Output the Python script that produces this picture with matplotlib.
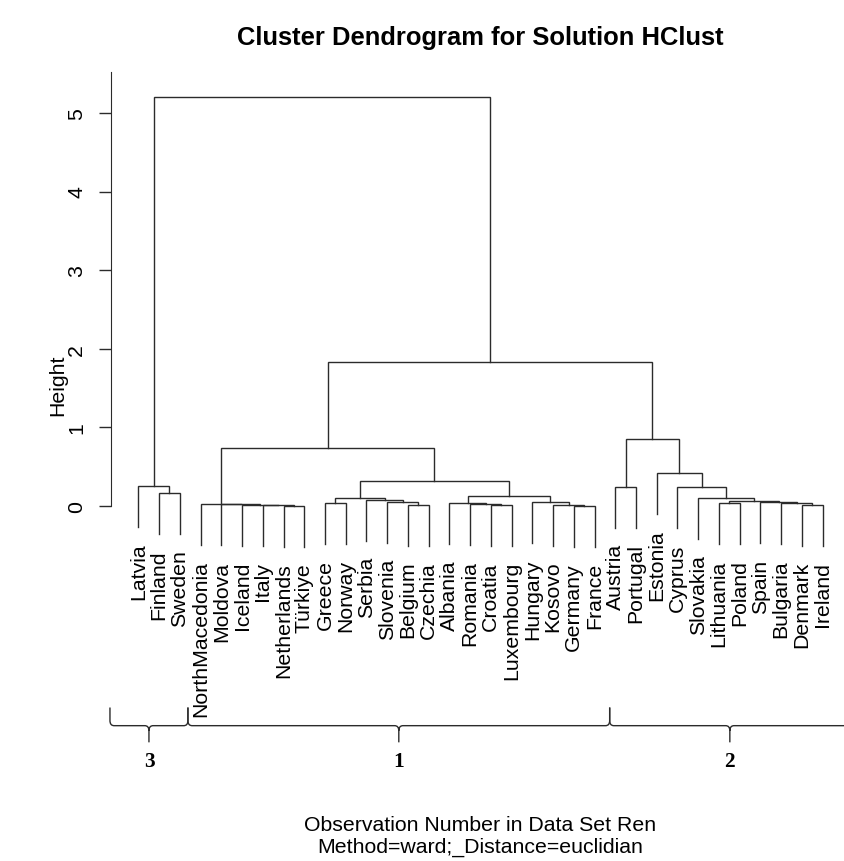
import numpy as np
import matplotlib
matplotlib.use('Agg')
import matplotlib.pyplot as plt
from matplotlib.path import Path
from matplotlib.patches import PathPatch

plt.rcParams['font.family'] = ['Liberation Sans', 'DejaVu Sans']

# leaves in display order
labels = ['Latvia', 'Finland', 'Sweden', 'NorthMacedonia', 'Moldova', 'Iceland',
          'Italy', 'Netherlands', 'Türkiye', 'Greece', 'Norway', 'Serbia',
          'Slovenia', 'Belgium', 'Czechia', 'Albania', 'Romania', 'Croatia',
          'Luxembourg', 'Hungary', 'Kosovo', 'Germany', 'France', 'Austria',
          'Portugal', 'Estonia', 'Cyprus', 'Slovakia', 'Lithuania', 'Poland',
          'Spain', 'Bulgaria', 'Denmark', 'Ireland']

# merge steps: (left, right, height); a str is a leaf, an int an earlier merge
merges = [
    ('Finland', 'Sweden', 0.165),      # 0
    ('Latvia', 0, 0.25),               # 1
    ('Netherlands', 'Türkiye', 0.004), # 2
    ('Italy', 2, 0.010),               # 3
    ('Iceland', 3, 0.015),             # 4
    ('Moldova', 4, 0.020),             # 5
    ('NorthMacedonia', 5, 0.028),      # 6
    ('Greece', 'Norway', 0.035),       # 7
    ('Belgium', 'Czechia', 0.017),     # 8
    ('Slovenia', 8, 0.055),            # 9
    ('Serbia', 9, 0.076),              # 10
    (7, 10, 0.098),                    # 11
    ('Croatia', 'Luxembourg', 0.013),  # 12
    ('Romania', 12, 0.025),            # 13
    ('Albania', 13, 0.034),            # 14
    ('Germany', 'France', 0.003),      # 15
    ('Kosovo', 15, 0.017),             # 16
    ('Hungary', 16, 0.047),            # 17
    (14, 17, 0.13),                    # 18
    (11, 18, 0.32),                    # 19
    (6, 19, 0.74),                     # 20
    ('Austria', 'Portugal', 0.24),     # 21
    ('Denmark', 'Ireland', 0.017),     # 22
    ('Bulgaria', 22, 0.034),           # 23
    ('Spain', 23, 0.047),              # 24
    ('Lithuania', 'Poland', 0.034),    # 25
    (25, 24, 0.068),                   # 26
    ('Slovakia', 26, 0.098),           # 27
    ('Cyprus', 27, 0.238),             # 28
    ('Estonia', 28, 0.416),            # 29
    (21, 29, 0.85),                    # 30
    (20, 30, 1.83),                    # 31
    (1, 31, 5.2),                      # 32
]
hang = 0.52

# cluster brackets under the tree (edges in leaf-index units)
cluster_ids = ['3', '1', '2']
cluster_edges = [-1.37, 2.39, 22.73, 34.32]

yticks = [0, 1, 2, 3, 4, 5]

LC = '#2b2b2b'
FS = 15.3

fig = plt.figure(figsize=(8.45, 8.62), dpi=100)
ax = fig.add_axes([111 / 845, (862 - 507) / 862, 739 / 845, 434 / 862])
ax.set_xlim(-1.32, 34.32)
ax.set_ylim(0, 5.52)

pos = {name: i for i, name in enumerate(labels)}
mx, mh = [], []


def node(c):
    if isinstance(c, str):
        return pos[c], None
    return mx[c], mh[c]


for a, b, h in merges:
    (xa, ha), (xb, hb) = node(a), node(b)
    ya = h - hang if ha is None else ha
    yb = h - hang if hb is None else hb
    ax.plot([xa, xa, xb, xb], [ya, h, h, yb], color=LC, lw=1.0,
            clip_on=False, solid_joinstyle='miter')
    for c, xc, hc in ((a, xa, ha), (b, xb, hb)):
        if hc is None:
            ax.annotate(c, (xc, h - hang), xytext=(0, -11),
                        textcoords='offset points', rotation=90,
                        ha='center', va='top', fontsize=FS,
                        annotation_clip=False)
    mx.append((xa + xb) / 2)
    mh.append(h)

# braces
yb0, ytop, ytip, ynum = -2.794, -2.563, -3.006, -3.243
cx, cy = 0.2, 0.065
for cid, x0, x1 in zip(cluster_ids, cluster_edges[:-1], cluster_edges[1:]):
    m = (x0 + x1) / 2
    verts = [(x0, ytop), (x0, yb0 + cy), (x0, yb0), (x0 + cx, yb0),
             (m - cx, yb0), (m, yb0), (m, yb0 - cy), (m, ytip),
             (m, yb0 - cy), (m, yb0), (m + cx, yb0),
             (x1 - cx, yb0), (x1, yb0), (x1, yb0 + cy), (x1, ytop)]
    codes = [Path.MOVETO, Path.LINETO, Path.CURVE3, Path.CURVE3,
             Path.LINETO, Path.CURVE3, Path.CURVE3, Path.LINETO,
             Path.MOVETO, Path.CURVE3, Path.CURVE3,
             Path.LINETO, Path.CURVE3, Path.CURVE3, Path.LINETO]
    ax.add_patch(PathPatch(Path(verts, codes), fill=False, edgecolor=LC,
                           lw=1.0, clip_on=False))
    ax.text(m, ynum, cid, ha='center', va='center', fontsize=FS,
            family='Liberation Serif', weight='bold')

for s in ['top', 'right', 'bottom']:
    ax.spines[s].set_visible(False)
ax.spines['left'].set_color(LC)
ax.spines['left'].set_bounds(0, 5.52)
ax.set_xticks([])
ax.set_yticks(yticks)
ax.set_yticklabels([str(t) for t in yticks])
ax.tick_params(axis='y', length=8.9, width=1.0, pad=9, labelsize=FS,
               labelrotation=90, color=LC)
for lbl in ax.get_yticklabels():
    lbl.set_va('center')

fig.text(58 / 845, 1 - 385 / 862, 'Height', rotation=90, ha='center',
         va='center', fontsize=FS)
fig.text(480 / 845, 1 - 38 / 862, 'Cluster Dendrogram for Solution HClust',
         ha='center', va='center', fontsize=18.4, weight='bold')
fig.text(480 / 845, 1 - 826 / 862, 'Observation Number in Data Set Ren',
         ha='center', va='center', fontsize=FS)
fig.text(480 / 845, 1 - 847 / 862, 'Method=ward;_Distance=euclidian',
         ha='center', va='center', fontsize=FS)

fig.savefig('out.png', dpi=100)
